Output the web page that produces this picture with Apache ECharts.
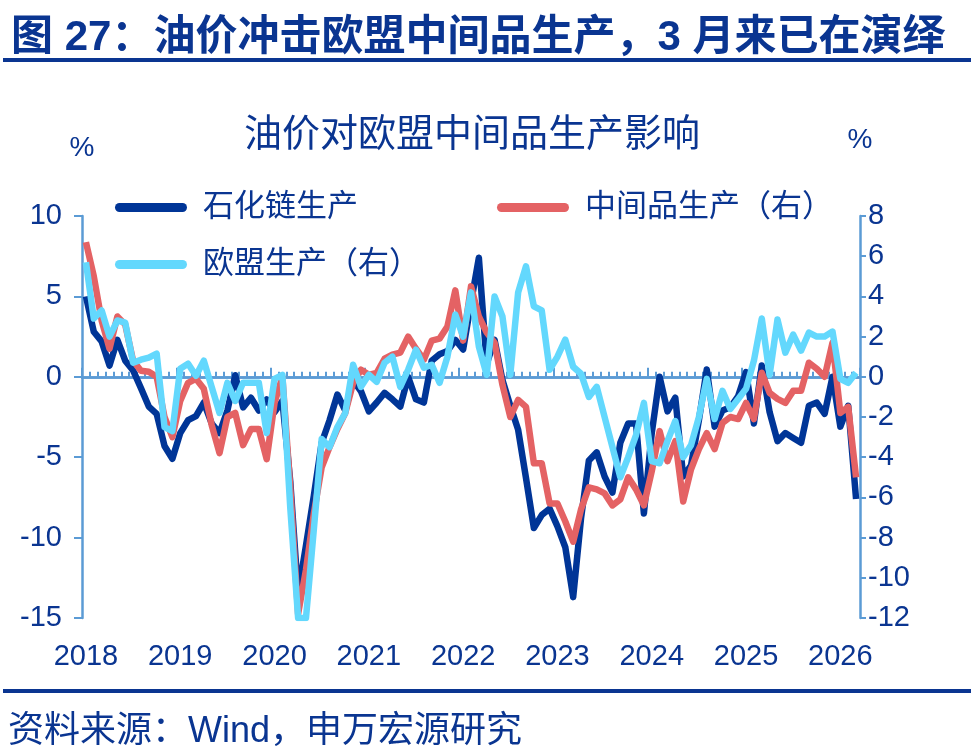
<!DOCTYPE html>
<html><head><meta charset="utf-8">
<script src="https://cdn.jsdelivr.net/npm/echarts@6/dist/echarts.min.js"></script>
<style>html,body{margin:0;padding:0;background:#fff}#c{width:974px;height:749px}</style>
</head><body><div id="c"></div>
<script>
// ---- categories: monthly, 2018-01 .. 2026-03 ----
const startYear = 2018;
const monthCount = 99;
const months = [];
for (let k = 0; k < monthCount; k++) {
  const y = startYear + Math.floor(k / 12), m = (k % 12) + 1;
  months.push(y + '-' + (m < 10 ? '0' + m : m));
}
const yearLabels = ['2018','2019','2020','2021','2022','2023','2024','2025','2026'];

// 石化链生产 (left axis, %)
const petrochem = [
  5.0, 2.8, 2.2, 0.7, 2.3, 1.0, 0.4, -0.7, -1.85, -2.3, -4.3, -5.1,
  -3.5, -2.7, -2.45, -1.6, -2.9, -3.5, -2.1, 0.1, -1.9, -1.3, -2.1, -1.4,
  -2.2, -1.5, -6.5, -13.5, -10.5, -7.4, -4.1, -2.7, -1.1, -2.1, -0.2, -0.9,
  -2.15, -1.6, -1.0, -1.4, -1.85, 0.0, -1.4, -1.6, 1.0, 1.4, 1.6, 2.3,
  1.7, 4.6, 7.4, 0.8, 2.3, -0.2, -1.8, -3.3, -6.3, -9.4, -8.6, -8.2,
  -9.3, -10.6, -13.7, -8.8, -5.2, -4.7, -6.2, -7.2, -4.1, -2.9, -2.9, -8.5,
  -3.5, 0.0, -2.15, -1.3, -6.2, -5.5, -2.7, 0.45, -3.1, -2.1, -1.9, -1.2,
  0.3, -2.9, 0.7, -2.2, -4.0, -3.5, -3.8, -4.1, -1.8, -1.6, -2.3, 0.0,
  -3.1, -1.8, -7.6
];
// 中间品生产（右）
const intermediate = [
  6.7, 5.0, 2.8, 1.4, 3.0, 2.6, 0.8, 0.3, 0.25, 0.0, -2.0, -3.0,
  -1.2, -0.3, -0.1, -0.6, -2.4, -3.8, -2.0, -1.8, -3.4, -2.6, -2.6, -4.1,
  -1.3, 0.0, -5.5, -11.8, -9.6, -6.8, -4.5, -3.5, -2.6, -1.8, -0.3, 0.35,
  0.1, 0.2, 0.9, 1.1, 1.2, 2.0, 1.4, 0.85, 1.8, 1.9, 2.5, 4.3,
  1.8, 4.5, 3.0, 2.2, 1.7, -0.4, -2.0, -1.15, -1.5, -4.3, -4.3, -6.3,
  -6.3, -7.2, -8.2, -6.6, -5.5, -5.6, -5.8, -6.4, -6.1, -5.0, -5.6, -6.4,
  -4.7, -2.7, -4.2, -3.2, -6.2, -4.6, -3.6, -2.8, -3.6, -2.3, -2.0, -2.1,
  -1.3, -2.1, 0.2, -0.8, -1.1, -1.3, -0.7, -0.7, 0.7, 0.4, 0.0, 1.7,
  -1.8, -1.5, -5.0
];
// 欧盟生产（右）
const euProduction = [
  5.7, 2.9, 3.3, 2.0, 2.8, 2.7, 0.7, 0.85, 0.95, 1.15, -2.5, -2.7,
  0.4, 0.65, 0.05, 0.8, -0.5, -1.8, -0.3, -1.2, -0.3, -0.3, -0.3, -2.8,
  -0.1, 0.1, -6.5, -12.0, -12.0, -7.6, -3.1, -3.5, -2.5, -1.8, 0.6, -0.5,
  0.1, -0.25, 0.7, 1.0, -0.5, 0.35, 1.35, 0.45, 0.6, -0.3, 1.0, 3.1,
  2.0, 4.2, 1.5, 0.1, 4.0, 3.0, 0.1, 4.2, 5.5, 3.5, 3.3, 0.35,
  1.0, 1.85, 0.5, 0.15, -1.0, -0.5, -2.0, -3.5, -5.0, -4.0, -2.9, -1.3,
  -4.2, -4.3, -3.2, -2.2, -4.0, -3.4, -2.0, -0.1, -2.1, -0.7, -1.6, -1.1,
  -0.6, 0.8, 2.9, 0.1, 2.85, 1.2, 2.1, 1.3, 2.2, 2.0, 2.0, 2.25,
  -0.1, -0.3, 0.2
];

const FONT = '"Liberation Sans", "Noto Sans CJK SC", sans-serif';
const TXT = '#0a3591';
const AX = '#5b9bd5';
const C_NAVY = '#003597', C_RED = '#e46264', C_LB = '#63d8fd';
const CAP = 'path://M5,0 L75,0 A5,5 0 0 1 75,10 L5,10 A5,5 0 0 1 5,0 Z';

const chart = echarts.init(document.getElementById('c'), null, {renderer: 'canvas'});
const legendText = {fontSize: 31, color: TXT, fontFamily: FONT, padding: [0, 0, 0, 7]};
const yearOf = (v) => v.slice(0, 4);

chart.setOption({
  animation: false,
  backgroundColor: '#fff',
  title: [
    {text: '图 27：油价冲击欧盟中间品生产，3 月来已在演绎', left: 6, top: 12,
     textStyle: {fontSize: 42, fontWeight: 'bold', color: TXT, fontFamily: FONT}},
    {text: '油价对欧盟中间品生产影响', left: 239, top: 112,
     textStyle: {fontSize: 38, fontWeight: 'normal', color: TXT, fontFamily: FONT}},
    {text: '资料来源：Wind，申万宏源研究', left: 3, top: 709,
     textStyle: {fontSize: 36, fontWeight: 'normal', color: TXT, fontFamily: FONT}}
  ],
  graphic: [
    {type: 'rect', shape: {x: 3, y: 58, width: 968, height: 4}, style: {fill: TXT}},
    {type: 'rect', shape: {x: 3, y: 689, width: 968, height: 4}, style: {fill: TXT}}
  ],
  legend: [
    {data: [{name: '石化链生产', icon: CAP}], left: 115, top: 192, padding: 0,
     itemWidth: 80, itemHeight: 9, selectedMode: false, textStyle: legendText},
    {data: [{name: '中间品生产（右）', icon: CAP}], left: 497, top: 192, padding: 0,
     itemWidth: 80, itemHeight: 9, selectedMode: false, textStyle: legendText},
    {data: [{name: '欧盟生产（右）', icon: CAP}], left: 115, top: 249, padding: 0,
     itemWidth: 80, itemHeight: 9, selectedMode: false, textStyle: legendText}
  ],
  grid: {left: 82, right: 114, top: 216, height: 402, containLabel: false},
  xAxis: [
    {type: 'category', data: months, boundaryGap: true,
     axisLine: {show: true, onZero: true, onZeroAxisIndex: 0, lineStyle: {color: AX, width: 2.5}},
     axisTick: {show: true, interval: 0, inside: true, length: 5, lineStyle: {color: AX, width: 2}},
     axisLabel: {show: false}, splitLine: {show: false}},
    {type: 'category', data: months, boundaryGap: true,
     axisLine: {show: true, onZero: true, onZeroAxisIndex: 0, lineStyle: {color: AX, width: 2.5}},
     axisTick: {show: true, interval: (i) => i % 12 === 0, inside: false, length: 9, lineStyle: {color: AX, width: 2}},
     axisLabel: {show: false}, splitLine: {show: false}},
    {type: 'category', data: months, boundaryGap: true, position: 'bottom',
     axisLine: {show: false, onZero: false}, axisTick: {show: false},
     axisLabel: {show: true, interval: (i) => i % 12 === 0, formatter: yearOf, margin: 24,
       fontSize: 29, color: TXT, fontFamily: FONT},
     splitLine: {show: false}}
  ],
  yAxis: [
    {type: 'value', min: -15, max: 10, interval: 5, position: 'left',
     name: '%', nameLocation: 'end', nameGap: 54,
     nameTextStyle: {fontSize: 28, color: TXT, fontFamily: FONT, align: 'center'},
     axisLine: {show: true, lineStyle: {color: AX, width: 2.5}},
     axisTick: {show: true, inside: false, length: 8, lineStyle: {color: AX, width: 2}},
     axisLabel: {margin: 20, fontSize: 29, color: TXT, fontFamily: FONT},
     splitLine: {show: false}},
    {type: 'value', min: -12, max: 8, interval: 2, position: 'right',
     name: '%', nameLocation: 'end', nameGap: 62,
     nameTextStyle: {fontSize: 28, color: TXT, fontFamily: FONT, align: 'center'},
     axisLine: {show: true, lineStyle: {color: AX, width: 2.5}},
     axisTick: {show: true, inside: false, length: 6, lineStyle: {color: AX, width: 2}},
     axisLabel: {margin: 8, fontSize: 29, color: TXT, fontFamily: FONT},
     splitLine: {show: false}}
  ],
  series: [
    {name: '石化链生产', type: 'line', xAxisIndex: 0, yAxisIndex: 0, data: petrochem,
     symbol: 'none', lineStyle: {color: C_NAVY, width: 6.5, join: 'round'}, itemStyle: {color: C_NAVY}, z: 2},
    {name: '中间品生产（右）', type: 'line', xAxisIndex: 0, yAxisIndex: 1, data: intermediate,
     symbol: 'none', lineStyle: {color: C_RED, width: 6.5, join: 'round'}, itemStyle: {color: C_RED}, z: 3},
    {name: '欧盟生产（右）', type: 'line', xAxisIndex: 0, yAxisIndex: 1, data: euProduction,
     symbol: 'none', lineStyle: {color: C_LB, width: 6.5, join: 'round'}, itemStyle: {color: C_LB}, z: 4}
  ]
});
</script></body></html>
